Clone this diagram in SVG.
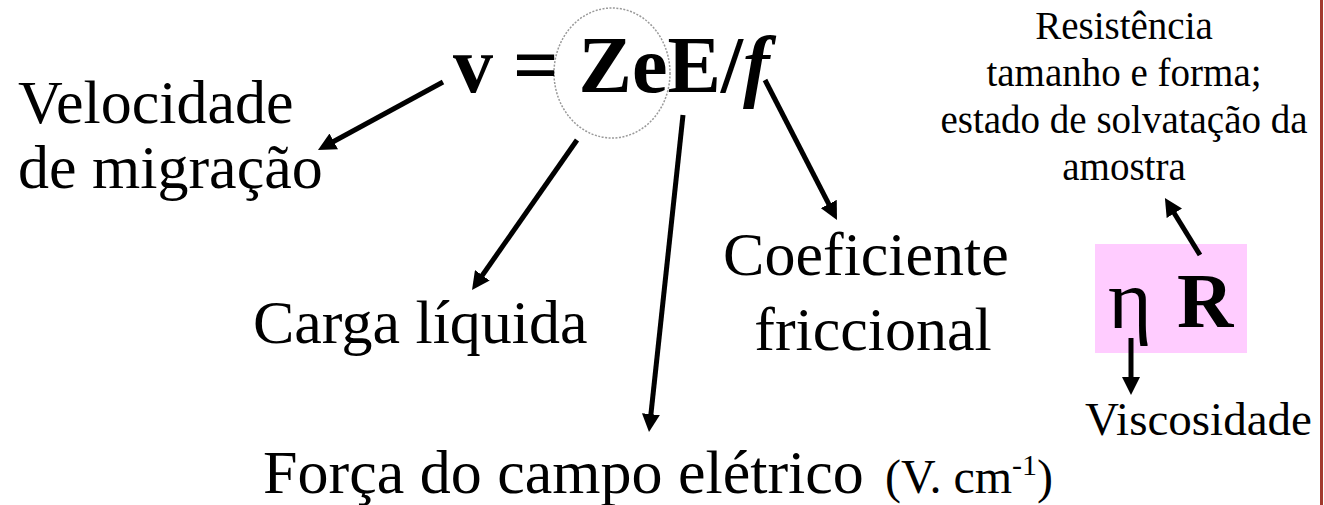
<svg xmlns="http://www.w3.org/2000/svg" width="1324" height="505" viewBox="0 0 1324 505">
<defs>
<marker id="ah" markerUnits="userSpaceOnUse" markerWidth="18" markerHeight="18" viewBox="0 0 18 18" refX="6" refY="9" orient="auto">
<path d="M0,0 L18,9 L0,18 z" fill="#000"/>
</marker>
</defs>
<style>
text{font-family:'Liberation Serif','Times New Roman','DejaVu Serif',serif;fill:#000}
.b{font-weight:bold}
.big{font-size:62px}
.sm{font-size:39px}
.arr{stroke:#000;stroke-width:5;fill:none;marker-end:url(#ah)}
</style>
<rect width="1324" height="505" fill="#fff"/>
<line x1="1321.5" y1="0" x2="1321.5" y2="505" stroke="#a33a2e" stroke-width="3"/>

<g id="equation">
<ellipse cx="612" cy="73" rx="58" ry="65" fill="none" stroke="#999" stroke-width="1.5" stroke-dasharray="2,1.5"/>
<text class="b" x="453" y="92" font-size="80">v = ZeE/<tspan font-style="italic">f</tspan></text>
</g>

<g id="velocidade">
<text class="big" x="18" y="123">Velocidade</text>
<text class="big" x="18" y="188">de migração</text>
</g>

<g id="carga">
<text class="big" x="253" y="343">Carga líquida</text>
</g>

<g id="coeficiente">
<text class="big" x="866" y="275" text-anchor="middle">Coeficiente</text>
<text class="big" x="873" y="350" text-anchor="middle">friccional</text>
</g>

<g id="forca">
<text x="263" y="493" font-size="62">Força do campo elétrico <tspan x="885" font-size="48">(V. cm<tspan font-size="30" dy="-18">-1</tspan><tspan dy="18">)</tspan></tspan></text>
</g>

<g id="resistencia">
<text class="sm" x="1124" y="39" text-anchor="middle">Resistência</text>
<text class="sm" x="1124" y="86" text-anchor="middle">tamanho e forma;</text>
<text class="sm" x="1124" y="133" text-anchor="middle">estado de solvatação da</text>
<text class="sm" x="1124" y="180" text-anchor="middle">amostra</text>
</g>

<g id="etaR">
<rect x="1095" y="244" width="152" height="109" fill="#ffccff"/>
<text x="1108" y="328" font-size="84">η</text>
<text class="b" x="1177" y="327" font-size="78">R</text>
</g>

<g id="viscosidade">
<text x="1085" y="435" font-size="47">Viscosidade</text>
</g>

<g id="connectors">
<line class="arr" x1="443" y1="82" x2="328.5" y2="144.3"/>
<line class="arr" x1="577" y1="140" x2="478.9" y2="280.2"/>
<line class="arr" x1="683" y1="115" x2="650.3" y2="420.1"/>
<line class="arr" x1="765" y1="80" x2="831.5" y2="209.3"/>
<line class="arr" x1="1200" y1="255" x2="1171.2" y2="208.2"/>
<line class="arr" x1="1131" y1="338" x2="1131" y2="383"/>
</g>
</svg>
